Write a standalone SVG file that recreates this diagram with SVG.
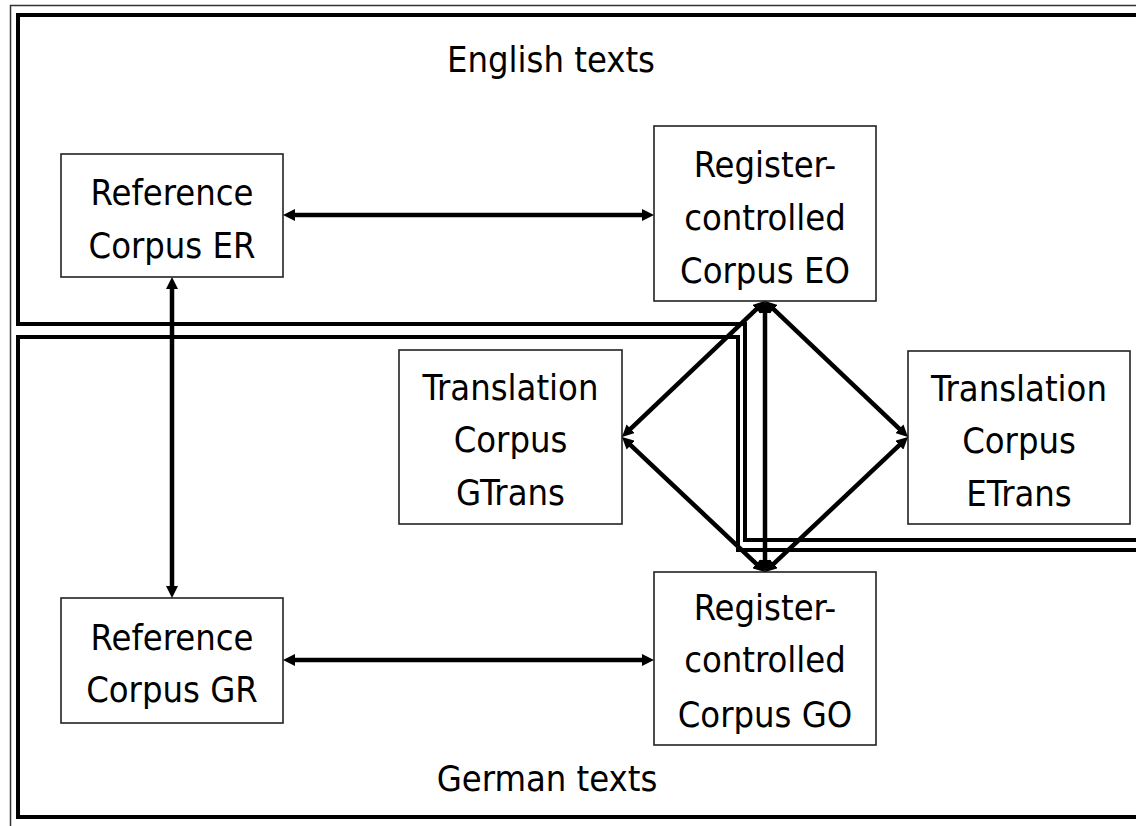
<svg xmlns="http://www.w3.org/2000/svg" width="1136" height="826" viewBox="0 0 1136 826">
<style>
.box{fill:#fff;stroke:#222;stroke-width:1.6}
.t{font-family:"DejaVu Sans Condensed","DejaVu Sans",sans-serif;font-size:36px;fill:#000;text-anchor:middle}
.frame{fill:none;stroke:#000;stroke-width:4}
.c{fill:none;stroke:#000;stroke-width:4.5;marker-start:url(#ah);marker-end:url(#ah)}
</style>
<defs>
<marker id="ah" viewBox="0 0 12 12" refX="6" refY="6" markerWidth="12" markerHeight="12" markerUnits="userSpaceOnUse" orient="auto-start-reverse">
<path d="M0,0 L12,6 L0,12 z" fill="#000"/>
</marker>
</defs>
<rect width="1136" height="826" fill="#fff"/>
<g id="outer-frame">
<path d="M1140,5.5 H10.5 V830" fill="none" stroke="#333" stroke-width="1.5"/>
</g>
<g id="english-region">
<path class="frame" d="M1140,15 H18 V324 H745 V540 H1140"/>
<text class="t" x="551" y="72">English texts</text>
</g>
<g id="german-region">
<path class="frame" d="M1140,817 H18 V337 H738 V550 H1140"/>
<text class="t" x="547" y="791">German texts</text>
</g>
<g id="ER">
<rect class="box" x="61" y="154" width="222" height="123"/>
<text class="t" x="172" y="205">Reference</text>
<text class="t" x="172" y="258">Corpus ER</text>
</g>
<g id="EO">
<rect class="box" x="654" y="126" width="222" height="175"/>
<text class="t" x="765" y="177">Register-</text>
<text class="t" x="765" y="230">controlled</text>
<text class="t" x="765" y="283">Corpus EO</text>
</g>
<g id="GTrans">
<rect class="box" x="399" y="350" width="223" height="174"/>
<text class="t" x="510.5" y="400">Translation</text>
<text class="t" x="510.5" y="452">Corpus</text>
<text class="t" x="510.5" y="505">GTrans</text>
</g>
<g id="ETrans">
<rect class="box" x="908" y="351" width="222" height="173"/>
<text class="t" x="1019" y="401">Translation</text>
<text class="t" x="1019" y="453">Corpus</text>
<text class="t" x="1019" y="506">ETrans</text>
</g>
<g id="GR">
<rect class="box" x="61" y="598" width="222" height="125"/>
<text class="t" x="172" y="650">Reference</text>
<text class="t" x="172" y="702">Corpus GR</text>
</g>
<g id="GO">
<rect class="box" x="654" y="572" width="222" height="173"/>
<text class="t" x="765" y="620">Register-</text>
<text class="t" x="765" y="672">controlled</text>
<text class="t" x="765" y="727">Corpus GO</text>
</g>
<g id="connectors">
<line class="c" x1="289" y1="215" x2="648" y2="215"/>
<line class="c" x1="289" y1="660" x2="648" y2="660"/>
<line class="c" x1="172" y1="283" x2="172" y2="592"/>
<line class="c" x1="765" y1="307" x2="765" y2="566"/>
<line class="c" x1="760.65" y1="305.13" x2="626.35" y2="432.87"/>
<line class="c" x1="769.35" y1="305.13" x2="903.65" y2="432.87"/>
<line class="c" x1="760.64" y1="567.88" x2="626.36" y2="441.12"/>
<line class="c" x1="769.36" y1="567.88" x2="903.64" y2="441.12"/>
</g>
</svg>
